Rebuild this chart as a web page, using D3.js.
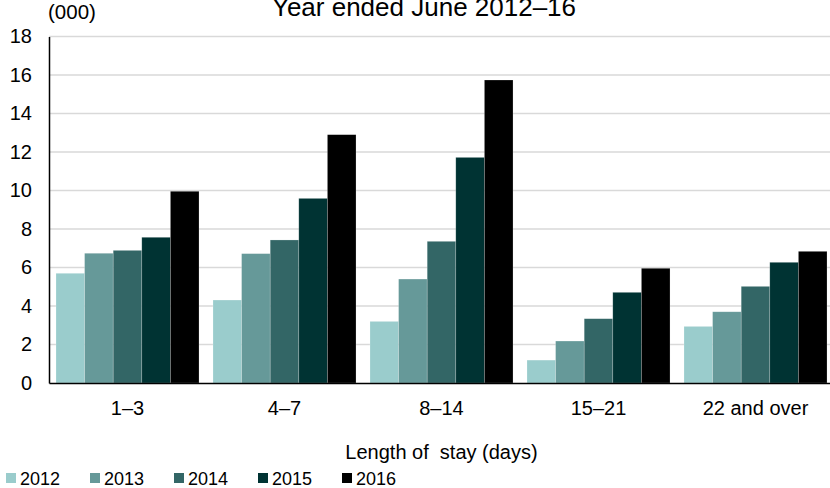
<!DOCTYPE html>
<html><head><meta charset="utf-8">
<script src="https://cdn.jsdelivr.net/npm/d3@7"></script>
<style>
html,body{margin:0;padding:0;background:#fff;}
svg{display:block;font-family:"Liberation Sans",Arial,sans-serif;}
</style></head>
<body>
<svg id="c" width="830" height="488"></svg>
<script>
const categories = ["1–3", "4–7", "8–14", "15–21", "22 and over"];
const years = ["2012", "2013", "2014", "2015", "2016"];
const v2012 = [5.70, 4.31, 3.20, 1.19, 2.94];
const v2013 = [6.74, 6.72, 5.40, 2.18, 3.70];
const v2014 = [6.89, 7.43, 7.36, 3.34, 5.02];
const v2015 = [7.57, 9.59, 11.72, 4.71, 6.27];
const v2016 = [9.96, 12.90, 15.74, 5.96, 6.84];
const yTicks = [0, 2, 4, 6, 8, 10, 12, 14, 16, 18];
const colors = ["#9acccc", "#669999", "#336666", "#003333", "#000000"];
const title = "Year ended June 2012–16";
const unitLabel = "(000)";
const xTitle = "Length of  stay (days)";

const series = [v2012, v2013, v2014, v2015, v2016];
const svg = d3.select("#c");
const mLeft = 49, mRight = 834, mTop = 36.5, mBottom = 383;

const x0 = d3.scaleBand().domain(categories).range([mLeft, mRight]).padding(0);
const gap = x0.bandwidth() * 0.089;
const x1 = d3.scaleBand().domain(years).range([gap / 2, x0.bandwidth() - gap / 2]).padding(0);
const y = d3.scaleLinear().domain([0, 18]).range([mBottom, mTop]);
const color = d3.scaleOrdinal().domain(years).range(colors);

// gridlines
svg.append("g").selectAll("line").data(yTicks.filter(d => d > 0)).join("line")
  .attr("x1", mLeft).attr("x2", 830)
  .attr("y1", d => y(d)).attr("y2", d => y(d))
  .attr("stroke", "#d9d9d9").attr("stroke-width", 1.5);

// bars
const groups = svg.append("g").selectAll("g").data(categories).join("g")
  .attr("transform", d => `translate(${x0(d)},0)`);
groups.selectAll("rect").data((c, ci) => years.map((yr, si) => ({ yr, v: series[si][ci] }))).join("rect")
  .attr("x", d => x1(d.yr)).attr("width", x1.bandwidth())
  .attr("y", d => y(d.v)).attr("height", d => y(0) - y(d.v))
  .attr("fill", d => color(d.yr))
  .attr("stroke", "rgba(255,255,255,0.35)").attr("stroke-width", 0.6);

// y axis
const yAxis = d3.axisLeft(y).tickValues(yTicks).tickSize(0).tickPadding(17);
const ya = svg.append("g").attr("transform", `translate(${mLeft},0)`).call(yAxis);
ya.select(".domain").attr("stroke", "#000").attr("stroke-width", 1.5);
ya.selectAll("text").attr("font-size", 20).attr("fill", "#000")
  .attr("font-family", "Liberation Sans, Arial, sans-serif");

// x axis
const xAxis = d3.axisBottom(x0).tickSize(0).tickPadding(18);
const xa = svg.append("g").attr("transform", `translate(0,${mBottom})`).call(xAxis);
xa.select(".domain").attr("stroke", "#000").attr("stroke-width", 1.5);
xa.selectAll("text").attr("font-size", 20).attr("fill", "#000")
  .attr("font-family", "Liberation Sans, Arial, sans-serif");

// title
svg.append("text").attr("x", 424).attr("y", 16).attr("text-anchor", "middle")
  .attr("font-size", 26).attr("fill", "#000").text(title);
// unit
svg.append("text").attr("x", 48).attr("y", 19).attr("font-size", 20.5)
  .attr("fill", "#000").text(unitLabel);
// x title
svg.append("text").attr("x", (mLeft + mRight) / 2).attr("y", 459).attr("text-anchor", "middle")
  .attr("font-size", 20).attr("fill", "#000").style("white-space", "pre")
  .text(xTitle);

// legend
const leg = svg.append("g").selectAll("g").data(years).join("g")
  .attr("transform", (d, i) => `translate(${6 + i * 84},473)`);
leg.append("rect").attr("width", 10).attr("height", 10).attr("fill", d => color(d));
leg.append("text").attr("x", 14).attr("y", 12).attr("font-size", 18).attr("fill", "#000").text(d => d);
</script>
</body></html>
